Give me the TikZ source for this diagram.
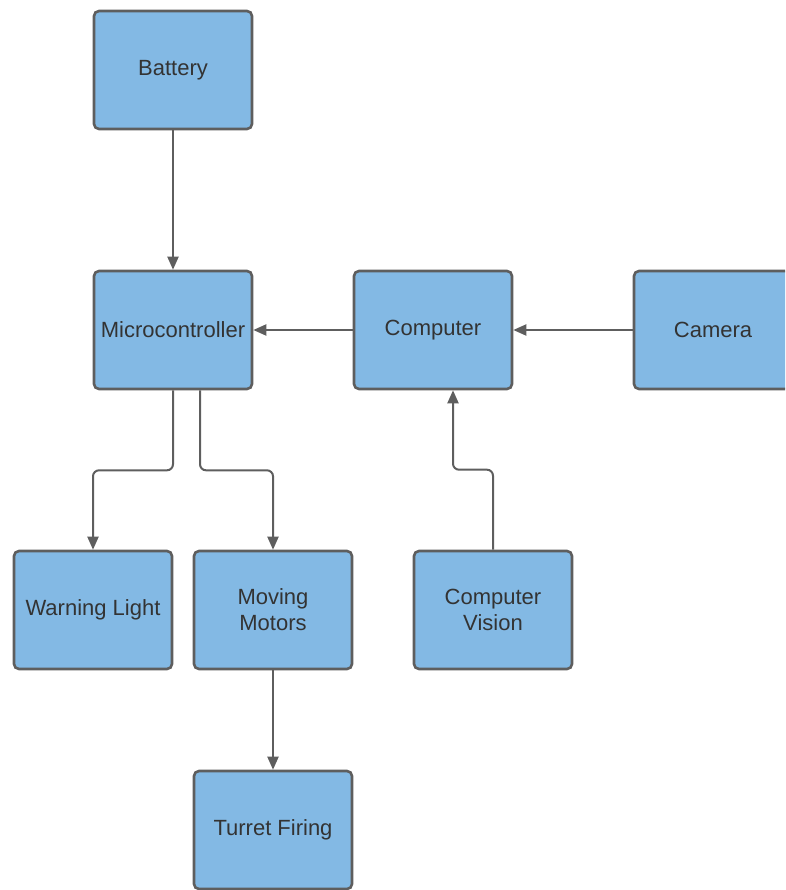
\documentclass[tikz,border=0pt]{standalone}
\usepackage{fontspec}
\setmainfont{Liberation Sans}
\usetikzlibrary{arrows.meta}
\definecolor{boxBlue}{RGB}{131, 185, 228}
\definecolor{lineGray}{RGB}{94, 94, 94}
\definecolor{textGray}{RGB}{51, 51, 51}

\tikzset{
  block/.style={draw=lineGray, line width=2.6pt, fill=boxBlue, rounded corners=5pt,
    minimum width=158pt, minimum height=118pt, align=center, text=textGray,
    font=\fontsize{22}{26}\selectfont},
  link/.style={draw=lineGray, line width=2pt, rounded corners=6pt,
    -{Triangle[length=13pt,width=11pt]}}
}

\begin{document}
\begin{tikzpicture}[x=1pt, y=-1pt]
    \useasboundingbox (0,0) rectangle (785,890);
    \clip (0,0) rectangle (785,890);
    % boxes
    \node[block] (bat) at (173,70) {Battery};
    \node[block] (micro) at (173,330) {Microcontroller};
    \node[block] (comp) at (433,330) {Computer};
    \node[block] (cam) at (713,330) {Camera};
    \node[block] (warn) at (93,610) {Warning Light};
    \node[block] (motors) at (273,610) {Moving\\Motors};
    \node[block] (vision) at (493,610) {Computer\\Vision};
    \node[block] (turret) at (273,830) {Turret Firing};
    % connectors
    \draw[link] (bat) -- (micro);
    \draw[link] (comp) -- (micro);
    \draw[link] (cam) -- (comp);
    \draw[link] (micro.south) -- ++(0,80) -| (warn.north);
    \draw[link] ([xshift=27pt]micro.south) -- ++(0,80) -| (motors.north);
    \draw[link] (vision.north) -- ++(0,-80) -| ([xshift=20pt]comp.south);
    \draw[link] (motors) -- (turret);
\end{tikzpicture}
\end{document}
